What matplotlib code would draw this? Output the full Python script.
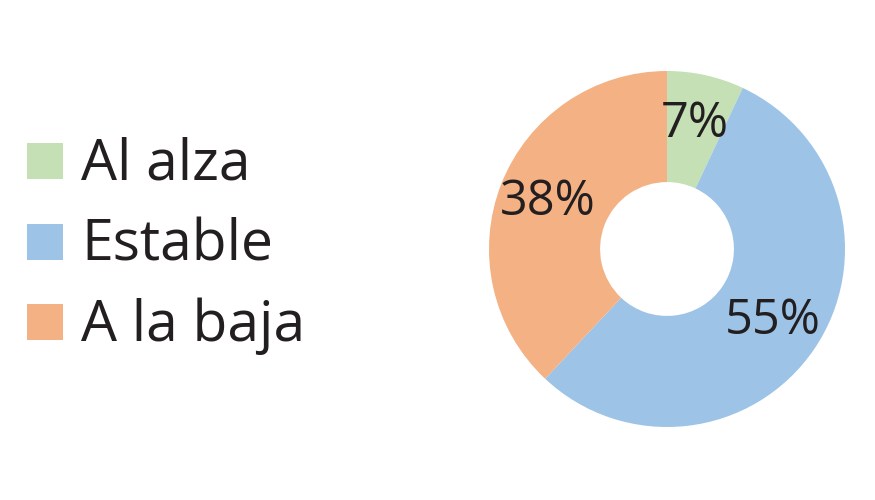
import matplotlib
matplotlib.use("Agg")
import matplotlib.pyplot as plt
from matplotlib.patches import Rectangle

plt.rcParams['font.family'] = ['Open Sans', 'DejaVu Sans']

labels = ["Al alza", "Estable", "A la baja"]
values = [7, 55, 38]
colors = ["#C5E0B4", "#9DC3E6", "#F4B183"]
text_color = "#231F20"

fig = plt.figure(figsize=(8.75, 5), dpi=100)
W, H = 875, 500

# donut axes, centre at (667, 249) px, outer radius 178 px
cx, cy, r = 667, 249, 178
ax = fig.add_axes([(cx - r) / W, (H - cy - r) / H, 2 * r / W, 2 * r / H])
wedges, texts, autotexts = ax.pie(
    values, colors=colors, startangle=90, counterclock=False,
    radius=1, wedgeprops=dict(width=0.624, linewidth=0),
    autopct=lambda p: f"{p:.0f}%", pctdistance=0.72,
    textprops=dict(fontsize=35, color=text_color))
ax.set_xlim(-1, 1)
ax.set_ylim(-1, 1)
ax.set_aspect('equal')
ax.axis('off')

# legend drawn by hand
row_y = [161, 242, 322]
for lab, col, y in zip(labels, colors, row_y):
    fig.patches.append(Rectangle((27 / W, (H - y - 18) / H), 36 / W, 36 / H,
                                 transform=fig.transFigure, facecolor=col,
                                 edgecolor='none'))
    fig.text(81 / W, (H - y + 3) / H, lab, fontsize=41, color=text_color,
             va='center_baseline', ha='left')

fig.savefig("out.png", dpi=100)
